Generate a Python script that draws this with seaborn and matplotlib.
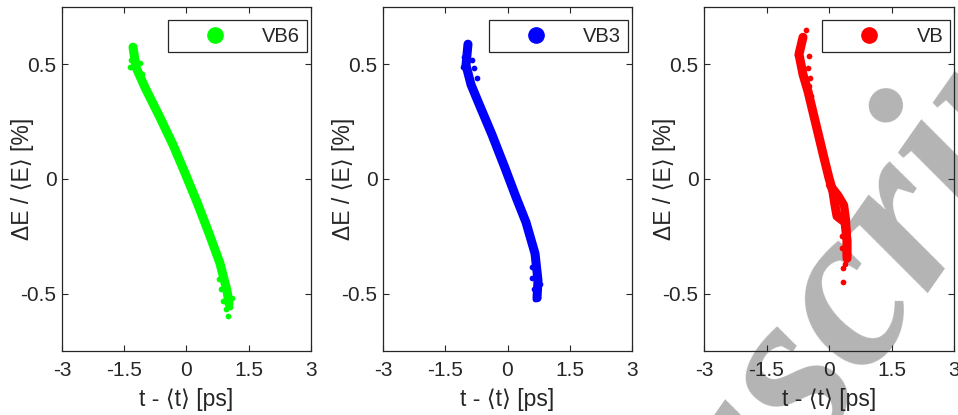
import numpy as np
import pandas as pd
import seaborn as sns
import matplotlib
matplotlib.use("Agg")
import matplotlib.pyplot as plt
from matplotlib.lines import Line2D

# ---------------- data ----------------
series_names = ["VB6", "VB3", "VB"]
series_colors = ["#00ff00", "#0000ff", "#ff0000"]

# centre line of each scatter band  (x: t-<t> [ps], y: dE/<E> [%])
vb6_x = [-1.289, -1.217, -1.000, -0.639, -0.325, -0.036, 0.253, 0.542, 0.807, 0.976, 1.024]
vb6_y = [0.575, 0.487, 0.399, 0.268, 0.149, 0.026, -0.101, -0.237, -0.368, -0.487, -0.544]
vb3_x = [-0.952, -1.000, -0.880, -0.711, -0.373, -0.060, 0.205, 0.446, 0.663, 0.735, 0.711]
vb3_y = [0.588, 0.496, 0.412, 0.338, 0.193, 0.048, -0.079, -0.189, -0.325, -0.443, -0.518]
vb_x = [-0.624, -0.720, -0.624, -0.504, -0.312, -0.120, 0.000, 0.096, 0.144, 0.192, 0.384, 0.432, 0.432]
vb_y = [0.618, 0.544, 0.456, 0.382, 0.237, 0.092, 0.004, -0.057, -0.114, -0.162, -0.189, -0.268, -0.346]
# second ridge of the VB cloud (the bulge below zero)
vb_ridge_x = [0.024, 0.216, 0.360, 0.408, 0.432, 0.432]
vb_ridge_y = [-0.026, -0.070, -0.114, -0.180, -0.268, -0.333]

# scattered points at the ragged ends of each cloud
vb6_ex = [-1.27, -1.36, -1.34, -1.12, -1.08, -1.04, -0.92, 0.79, 0.83, 0.87, 0.94, 1.05, 1.01, 1.09]
vb6_ey = [0.573, 0.49, 0.52, 0.507, 0.46, 0.42, 0.376, -0.436, -0.48, -0.53, -0.567, -0.56, -0.597, -0.52]
vb3_ex = [-0.944, -1.07, -1.05, -0.85, -0.81, -0.74, 0.60, 0.60, 0.63, 0.67, 0.74, 0.79]
vb3_ey = [0.588, 0.49, 0.53, 0.52, 0.485, 0.44, -0.385, -0.43, -0.48, -0.525, -0.52, -0.46]
vb_ex = [-0.552, -0.775, -0.47, -0.50, -0.46, -0.49, -0.44, 0.38, 0.33, 0.34, 0.31, 0.32]
vb_ey = [0.649, 0.54, 0.536, 0.485, 0.44, 0.405, 0.36, -0.37, -0.39, -0.45, -0.25, -0.30]

x_ticks = [-3, -1.5, 0, 1.5, 3]
x_tick_labels = ["-3", "-1.5", "0", "1.5", "3"]
y_ticks = [-0.5, 0, 0.5]
y_tick_labels = ["-0.5", "0", "0.5"]
x_label = "t - \u27e8t\u27e9 [ps]"
y_label = "\u0394E / \u27e8E\u27e9 [%]"
watermark_text = "Manuscript"

# ---------------- style ----------------
sns.set_theme(style="white")
plt.rcParams["font.family"] = ["Liberation Sans", "DejaVu Sans"]
plt.rcParams["axes.unicode_minus"] = False
dark = "#262626"

fig = plt.figure(figsize=(9.58, 4.15), dpi=100)
W, H = 958, 415
panel_px = [(62, 311), (383, 632), (704, 954)]
top_px, bot_px = 7, 351

# watermark (behind everything)
fig.text(1.166, 0.933, watermark_text, ha="right", va="baseline", rotation=55,
         rotation_mode="anchor", fontsize=165, family="Liberation Serif",
         style="italic", weight="bold", color="#b4b4b4", zorder=-10)

centres = [(vb6_x, vb6_y), (vb3_x, vb3_y), (vb_x, vb_y)]
extras = [(vb6_ex, vb6_ey), (vb3_ex, vb3_ey), (vb_ex, vb_ey)]

for i, ((l, r), name, col) in enumerate(zip(panel_px, series_names, series_colors)):
    ax = fig.add_axes([l / W, (H - bot_px) / H, (r - l) / W, (bot_px - top_px) / H])
    ax.set_facecolor("none")
    cx, cy = centres[i]
    dfc = pd.DataFrame({"x": cx, "y": cy})
    sns.lineplot(data=dfc, x="x", y="y", ax=ax, color=col, lw=6.5, sort=False,
                 estimator=None, solid_capstyle="round", solid_joinstyle="round")
    if name == "VB":
        dfr = pd.DataFrame({"x": vb_ridge_x, "y": vb_ridge_y})
        sns.lineplot(data=dfr, x="x", y="y", ax=ax, color=col, lw=6.0, sort=False,
                     estimator=None, solid_capstyle="round", solid_joinstyle="round")
    ex, ey = extras[i]
    dfe = pd.DataFrame({"x": ex, "y": ey})
    sns.scatterplot(data=dfe, x="x", y="y", ax=ax, color=col, s=17, linewidth=0)

    ax.set_xlim(-3, 3)
    ax.set_ylim(-0.75, 0.75)
    ax.set_xticks(x_ticks)
    ax.set_xticklabels(x_tick_labels)
    ax.set_yticks(y_ticks)
    ax.set_yticklabels(y_tick_labels)
    ax.tick_params(direction="in", length=4, width=0.8, top=True, right=True,
                   labelsize=15, colors=dark, bottom=True, left=True)
    ax.tick_params(axis="x", pad=7)
    ax.tick_params(axis="y", pad=4)
    for s in ax.spines.values():
        s.set_visible(True)
        s.set_color(dark)
        s.set_linewidth(0.9)
    ax.set_xlabel(x_label, fontsize=16.5, color=dark)
    ax.set_ylabel(y_label, fontsize=16.5, color=dark)
    ax.xaxis.set_label_coords(0.5, -0.108)
    ax.yaxis.set_label_coords(-0.112, 0.5)

    handle = Line2D([], [], marker="o", linestyle="none", markersize=11,
                    markerfacecolor=col, markeredgecolor=col)
    leg = ax.legend(handles=[handle], labels=[name], loc="upper right",
                    bbox_to_anchor=(1 - 4 / (r - l), 1 - 13 / (bot_px - top_px)),
                    borderaxespad=0, fontsize=14.5, handlelength=4.0,
                    handletextpad=0.35, borderpad=0.33, frameon=True,
                    fancybox=False, framealpha=1)
    leg.get_frame().set_edgecolor(dark)
    leg.get_frame().set_linewidth(0.9)
    for t in leg.get_texts():
        t.set_color(dark)

fig.savefig("out.png", dpi=100)
